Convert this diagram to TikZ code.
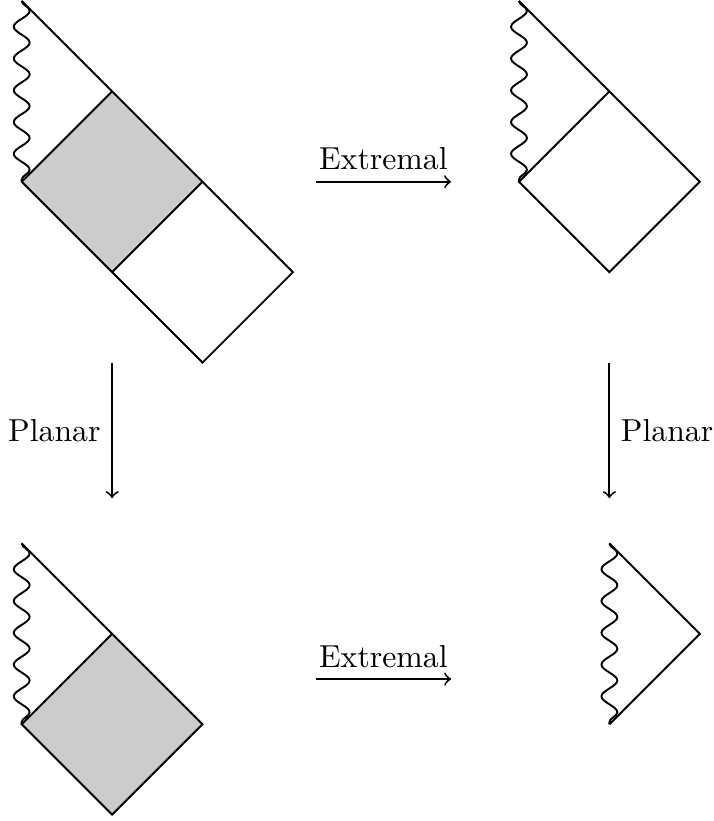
\documentclass[tikz,border=0pt]{standalone}
\usepackage{tikz}
\usetikzlibrary{positioning}
\usetikzlibrary{decorations.pathmorphing}

\begin{document}
\begin{tikzpicture}[semithick,
  shaded/.style={fill=gray!40},
  wavy/.style={decorate, decoration={snake, amplitude=2.5pt, segment length=10pt}}]

\useasboundingbox (-0.24,2.01) rectangle (7.65,-7.07);

%top left: two diamonds, first one shaded%
\begin{scope}[xshift=0cm, yshift=0cm]
\fill[shaded] (0,0)--(1,1)--(2,0)--(1,-1)--cycle;
\draw (0,2)--(3,-1)--(2,-2)--(0,0);
\draw (0,0)--(1,1);
\draw (1,-1)--(2,0);
\draw[wavy] (0,2)--(0,0);
\end{scope}

%top right: one diamond%
\begin{scope}[xshift=5.5cm, yshift=0cm]
\draw (0,2)--(2,0)--(1,-1)--(0,0)--(1,1);
\draw[wavy] (0,2)--(0,0);
\end{scope}

%bottom left: shaded diamond%
\begin{scope}[xshift=0cm, yshift=-6cm]
\fill[shaded] (0,0)--(1,1)--(2,0)--(1,-1)--cycle;
\draw (0,2)--(2,0)--(1,-1)--(0,0)--(1,1);
\draw[wavy] (0,2)--(0,0);
\end{scope}

%bottom right: triangle only%
\begin{scope}[xshift=6.5cm, yshift=-6cm]
\draw (0,2)--(1,1)--(0,0);
\draw[wavy] (0,2)--(0,0);
\end{scope}

%arrows%
\coordinate (extopL) at (3.25,0);
\coordinate (extopR) at (4.75,0);
\coordinate (exbotL) at (3.25,-5.5);
\coordinate (exbotR) at (4.75,-5.5);
\coordinate (plleftT) at (1,-2);
\coordinate (plleftB) at (1,-3.5);
\coordinate (plrightT) at (6.5,-2);
\coordinate (plrightB) at (6.5,-3.5);

\draw[->] (extopL) -- node[above] (extop) {Extremal} (extopR);
\draw[->] (exbotL) -- node[above] (exbot) {Extremal} (exbotR);
\draw[->] (plleftT) -- node[left] (plleft) {Planar} (plleftB);
\draw[->] (plrightT) -- node[right] (plright) {Planar} (plrightB);

\end{tikzpicture}
\end{document}
